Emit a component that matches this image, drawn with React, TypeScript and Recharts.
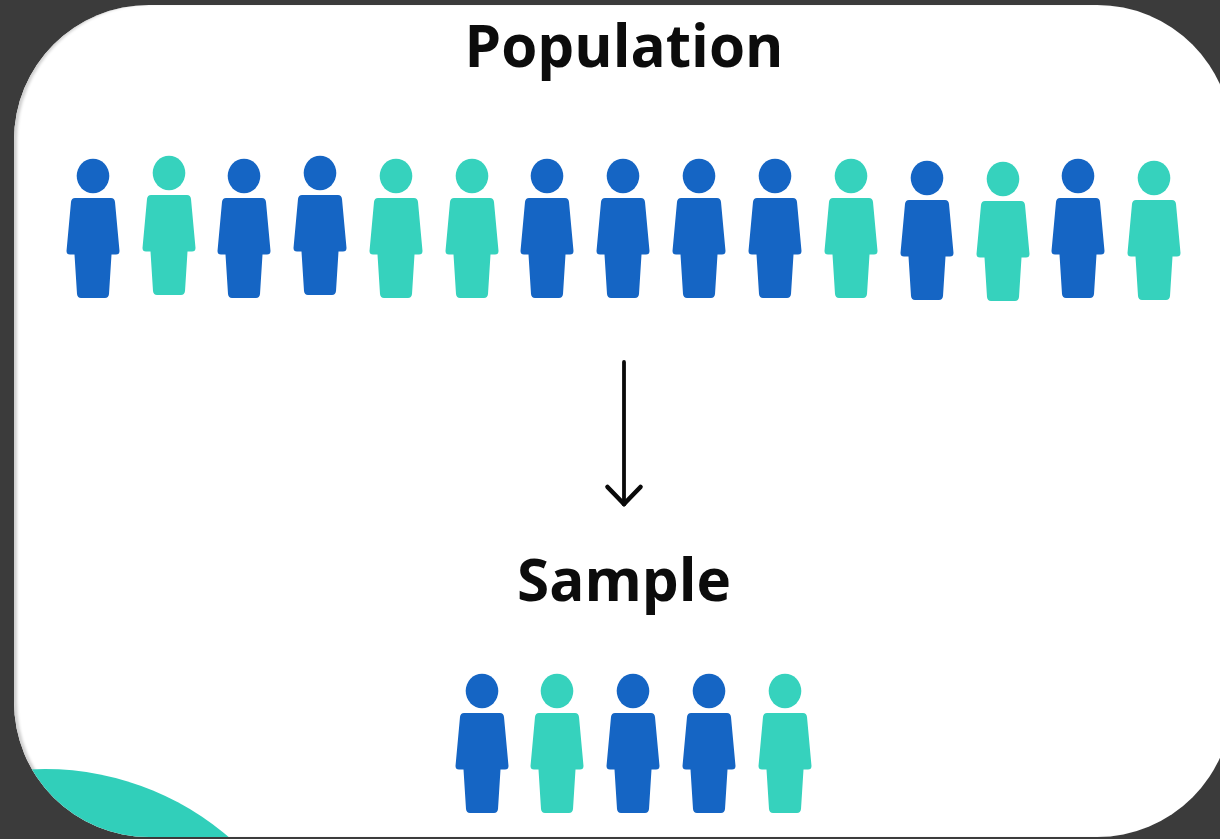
import React from "react";
import { ScatterChart, Scatter, XAxis, YAxis, ReferenceLine } from "recharts";

const BLUE = "#1565c4";
const TEAL = "#36d2bd";

// Head positions, one entry per person
const populationX = [93, 169, 244, 320, 396, 472, 547, 623, 699, 775, 851, 927, 1003, 1078, 1154];
const populationY = [176, 173, 176, 173, 176, 176, 176, 176, 176, 176, 176, 178, 179, 176, 178];
const populationGroup = ["b", "t", "b", "b", "t", "t", "b", "b", "b", "b", "t", "b", "t", "b", "t"];

const sampleX = [482, 557, 633, 709, 785];
const sampleY = [691, 691, 691, 691, 691];
const sampleGroup = ["b", "t", "b", "b", "t"];

const titles = ["Population", "Sample"];
const titleX = [624, 624];
const titleY = [67, 601];

const arrowX = 624;
const arrowTop = 362;
const arrowTip = 504;
const arrowHeadDX = 16.5;
const arrowHeadDY = 17;

const people = [
  ...populationX.map((x, i) => ({ x, y: populationY[i], group: populationGroup[i] })),
  ...sampleX.map((x, i) => ({ x, y: sampleY[i], group: sampleGroup[i] })),
];
const bluePeople = people.filter((p) => p.group === "b");
const tealPeople = people.filter((p) => p.group === "t");
const titleRows = titles.map((label, i) => ({ x: titleX[i], y: titleY[i], label }));

const BODY =
  "M -18 22 L 18 22 Q 21.5 22 22 26 L 26.5 75 Q 26.5 78.5 23 78.5 L 18.5 78.5 L 16 118 Q 15.5 122 12 122 L -12 122 Q -15.5 122 -16 118 L -18.5 78.5 L -23 78.5 Q -26.5 78.5 -26.5 75 L -22 26 Q -21.5 22 -18 22 Z";

const Person = (props: any) => {
  const { cx, cy, fill } = props;
  return (
    <g transform={`translate(${cx},${cy})`} fill={fill}>
      <ellipse cx={0} cy={0} rx={16.3} ry={17.2} />
      <path d={BODY} />
    </g>
  );
};

const Title = (props: any) => {
  const { cx, cy, payload } = props;
  return (
    <text
      x={cx}
      y={cy}
      textAnchor="middle"
      fontFamily="'Open Sans', 'Noto Sans', sans-serif"
      fontWeight={700}
      fontSize={58.4}
      fill="#0c0c0c"
    >
      {payload.label}
    </text>
  );
};

const arrowStyle = { strokeLinecap: "round" } as any;

export default function App() {
  return (
    <div
      style={{
        position: "absolute",
        left: 0,
        top: 0,
        width: 1220,
        height: 839,
        overflow: "hidden",
        background: "#3b3b3b",
      }}
    >
      <div
        style={{
          position: "absolute",
          left: 14,
          top: 5,
          width: 1218,
          height: 832,
          borderRadius: 135,
          background: "#ffffff",
          overflow: "hidden",
          boxShadow: "inset 4px 0 3px -1px #cfcfcf",
        }}
      >
        <div
          style={{
            position: "absolute",
            left: 45 - 282 - 14,
            top: 769 - 5,
            width: 564,
            height: 564,
            borderRadius: "50%",
            background: "#31cfba",
          }}
        />
      </div>
      <div style={{ position: "absolute", left: 0, top: 0, filter: "blur(0.7px)" }}>
        <ScatterChart width={1220} height={839} margin={{ top: 0, right: 0, bottom: 0, left: 0 }}>
          <XAxis type="number" dataKey="x" domain={[0, 1220]} hide />
          <YAxis type="number" dataKey="y" domain={[0, 839]} reversed hide />
          <ReferenceLine
            segment={[{ x: arrowX, y: arrowTop }, { x: arrowX, y: arrowTip }]}
            stroke="#0a0a0a"
            strokeWidth={3.8}
            style={arrowStyle}
          />
          <ReferenceLine
            segment={[{ x: arrowX - arrowHeadDX, y: arrowTip - arrowHeadDY }, { x: arrowX, y: arrowTip }]}
            stroke="#0a0a0a"
            strokeWidth={4.6}
            style={arrowStyle}
          />
          <ReferenceLine
            segment={[{ x: arrowX + arrowHeadDX, y: arrowTip - arrowHeadDY }, { x: arrowX, y: arrowTip }]}
            stroke="#0a0a0a"
            strokeWidth={4.6}
            style={arrowStyle}
          />
          <Scatter data={bluePeople} fill={BLUE} shape={Person} isAnimationActive={false} />
          <Scatter data={tealPeople} fill={TEAL} shape={Person} isAnimationActive={false} />
          <Scatter data={titleRows} fill="#0c0c0c" shape={Title} isAnimationActive={false} />
        </ScatterChart>
      </div>
    </div>
  );
}
